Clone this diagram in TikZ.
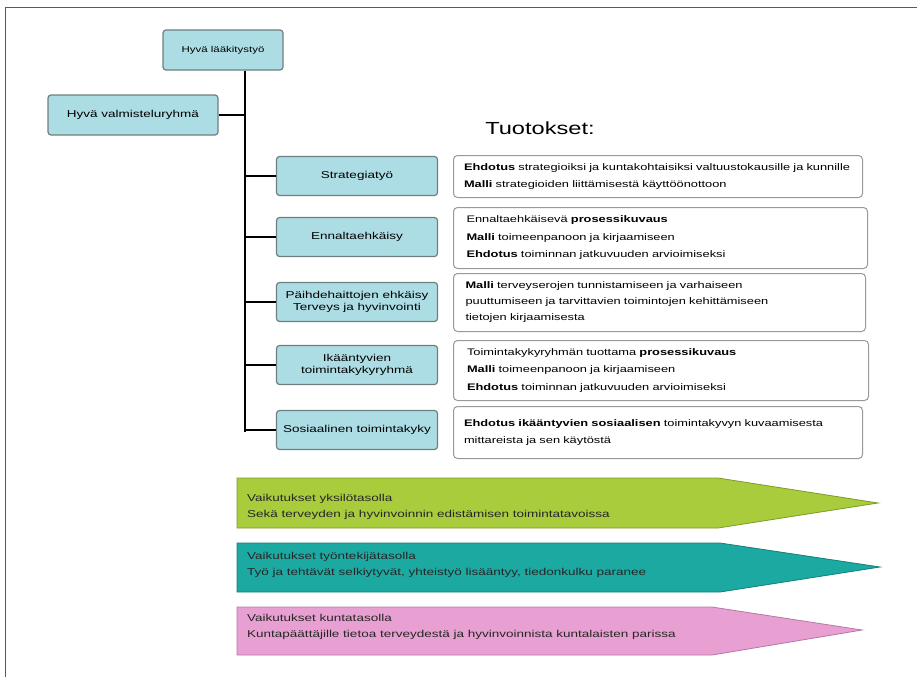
\documentclass[tikz,border=0pt]{standalone}
\usepackage{fontspec}
\setmainfont[FakeStretch=1.35]{Liberation Sans}
\definecolor{boxcyan}{HTML}{ADDDE4}
\definecolor{boxedge}{HTML}{6E7F82}
\definecolor{arrgreen}{HTML}{A9CC3C}
\definecolor{arrgreenE}{HTML}{7E9A2A}
\definecolor{arrteal}{HTML}{1BA9A2}
\definecolor{arrtealE}{HTML}{13807A}
\definecolor{arrpink}{HTML}{E8A0D2}
\definecolor{arrpinkE}{HTML}{B877A5}
\tikzset{
  x=1pt, y=-1pt,
  cbox/.style={draw=boxedge, fill=boxcyan, line width=1.2pt, rounded corners=3pt,
    align=center, inner sep=2pt, font=\fontsize{10}{12.5}\selectfont},
  obox/.style={draw=gray!80, fill=white, line width=1pt, rounded corners=4pt,
    anchor=north west, align=left, inner sep=0pt, font=\fontsize{9.5}{17.5}\selectfont},
  link/.style={draw=black, line width=1.8pt},
  arrtext/.style={anchor=north west, align=left, inner sep=0pt, font=\fontsize{10}{16}\selectfont, text=black!85}
}
\begin{document}
\begin{tikzpicture}
\useasboundingbox (0,0) rectangle (917,677);
% frame
\draw[gray!70!black, line width=1pt] (5,677) -- (5,8) -- (917,8);

% top and left boxes
\node[cbox, minimum width=120pt, minimum height=40pt, font=\fontsize{8.5}{10}\selectfont] (top) at (223,50) {Hyvä lääkitystyö};
\node[cbox, minimum width=170pt, minimum height=40pt] (left) at (133,115) {Hyvä valmisteluryhmä};

% middle boxes
\node[cbox, minimum width=161pt, minimum height=39pt] (m1) at (357,176) {Strategiatyö};
\node[cbox, minimum width=161pt, minimum height=39pt] (m2) at (357,237) {Ennaltaehkäisy};
\node[cbox, minimum width=161pt, minimum height=39pt] (m3) at (357,302) {Päihdehaittojen ehkäisy\\Terveys ja hyvinvointi};
\node[cbox, minimum width=161pt, minimum height=39pt] (m4) at (357,365) {Ikääntyvien\\toimintakykyryhmä};
\node[cbox, minimum width=161pt, minimum height=39pt] (m5) at (357,430) {Sosiaalinen toimintakyky};

% trunk
\coordinate (tA) at (245,115);
\coordinate (tEnd) at (245,432);
\draw[link] (top.south -| tA) -- (tEnd);
\draw[link] (left.east) -- (tA);
\foreach \m in {m1,m2,m3,m4,m5} {
  \draw[link] (\m.west -| tA) -- (\m.west);
}

% heading
\node[font=\fontsize{17.5}{20}\selectfont] (head) at (540,128) {Tuotokset:};

% output boxes
\node[obox, minimum width=409pt, minimum height=42pt, text width=400pt] (o1) at (453,155)
  {\hspace*{6pt}\textbf{Ehdotus} strategioiksi ja kuntakohtaisiksi valtuustokausille ja kunnille\\
   \hspace*{6pt}\textbf{Malli} strategioiden liittämisestä käyttöönottoon};
\node[obox, minimum width=414pt, minimum height=61pt, text width=400pt] (o2) at (453,207)
  {\hspace*{6pt}Ennaltaehkäisevä \textbf{prosessikuvaus}\\
   \hspace*{6pt}\textbf{Malli} toimeenpanoon ja kirjaamiseen\\
   \hspace*{6pt}\textbf{Ehdotus} toiminnan jatkuvuuden arvioimiseksi};
\node[obox, minimum width=412pt, minimum height=58pt, text width=400pt, font=\fontsize{9.5}{16}\selectfont] (o3) at (453,273)
  {\hspace*{6pt}\textbf{Malli} terveyserojen tunnistamiseen ja varhaiseen\\
   \hspace*{6pt}puuttumiseen ja tarvittavien toimintojen kehittämiseen\\
   \hspace*{6pt}tietojen kirjaamisesta};
\node[obox, minimum width=415pt, minimum height=60pt, text width=400pt] (o4) at (453,340)
  {\hspace*{6pt}Toimintakykyryhmän tuottama \textbf{prosessikuvaus}\\
   \hspace*{6pt}\textbf{Malli} toimeenpanoon ja kirjaamiseen\\
   \hspace*{6pt}\textbf{Ehdotus} toiminnan jatkuvuuden arvioimiseksi};
\node[obox, minimum width=409pt, minimum height=52pt, text width=400pt] (o5) at (453,406)
  {\hspace*{6pt}\textbf{Ehdotus ikääntyvien sosiaalisen} toimintakyvyn kuvaamisesta\\
   \hspace*{6pt}mittareista ja sen käytöstä};

% arrows
\filldraw[fill=arrgreen, draw=arrgreenE, line width=0.8pt]
  (237,478) -- (718,478) -- (878,503) -- (718,528) -- (237,528) -- cycle;
\node[arrtext] (g) at (247,494) {Vaikutukset yksilötasolla\\Sekä terveyden ja hyvinvoinnin edistämisen toimintatavoissa};

\filldraw[fill=arrteal, draw=arrtealE, line width=0.8pt]
  (237,543) -- (720,543) -- (880,567) -- (720,592) -- (237,592) -- cycle;
\node[arrtext] (t) at (247,552) {Vaikutukset työntekijätasolla\\Työ ja tehtävät selkiytyvät, yhteistyö lisääntyy, tiedonkulku paranee};

\filldraw[fill=arrpink, draw=arrpinkE, line width=0.8pt]
  (237,607) -- (712,607) -- (862,630) -- (712,655) -- (237,655) -- cycle;
\node[arrtext] (p) at (247,614) {Vaikutukset kuntatasolla\\Kuntapäättäjille tietoa terveydestä ja hyvinvoinnista kuntalaisten parissa};
\end{tikzpicture}
\end{document}
